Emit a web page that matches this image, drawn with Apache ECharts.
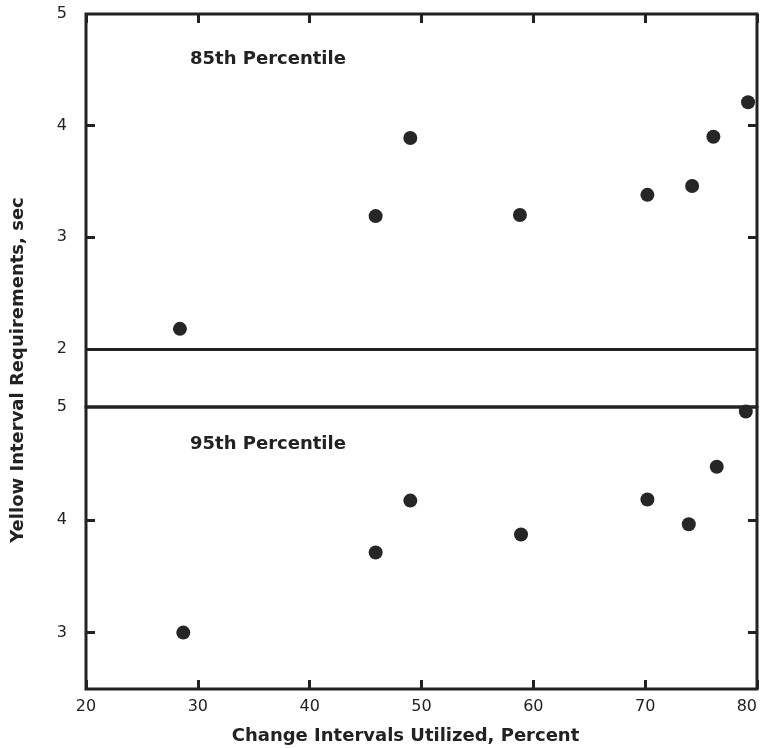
<!DOCTYPE html>
<html>
<head>
<meta charset="utf-8">
<script src="https://cdn.jsdelivr.net/npm/echarts@6/dist/echarts.min.js"></script>
<style>
  html, body { margin: 0; padding: 0; background: #fff; }
  #main { width: 761px; height: 748px; }
</style>
</head>
<body>
<div id="main"></div>
<script>
// values
var xTicks = [20, 30, 40, 50, 60, 70, 80]
var p85X = [28.4, 45.9, 49.0, 58.8, 70.2, 74.2, 76.1, 79.2]
var p85Y = [2.18, 3.19, 3.89, 3.20, 3.38, 3.46, 3.90, 4.21]
var p95X = [28.7, 45.9, 49.0, 58.9, 70.2, 73.9, 76.4, 79.0]
var p95Y = [3.00, 3.71, 4.17, 3.87, 4.18, 3.96, 4.47, 4.96]
var topLabels = [2, 3, 4, 5]
var bottomLabels = [3, 4, 5]

function pairs (xs, ys) {
  return xs.map(function (x, i) { return [x, ys[i]] })
}

var ink = '#222'
var font = 'DejaVu Sans'
var chart = echarts.init(document.getElementById('main'))

var xBase = {
  type: 'value',
  min: xTicks[0],
  max: xTicks[xTicks.length - 1],
  interval: 10,
  splitLine: { show: false },
  axisLine: { show: false },
  axisTick: { inside: true, length: 9, lineStyle: { color: ink, width: 3 } }
}

function yTick () {
  return { inside: true, length: 9, customValues: [3, 4], lineStyle: { color: ink, width: 3 } }
}

var option = {
  backgroundColor: '#fff',
  animation: false,
  grid: [
    { left: 86, right: 4, top: 14, height: 393, show: true, borderColor: ink, borderWidth: 3, outerBoundsMode: 'none' },
    { left: 86, right: 4, top: 407, height: 282, show: true, borderColor: ink, borderWidth: 3, outerBoundsMode: 'none' }
  ],
  xAxis: [
    Object.assign({}, xBase, { gridIndex: 0, position: 'top', axisLabel: { show: false } }),
    Object.assign({}, xBase, {
      gridIndex: 1,
      position: 'bottom',
      axisLabel: { color: ink, fontFamily: font, fontSize: 16, margin: 10, alignMaxLabel: 'right' },
      name: 'Change Intervals Utilized, Percent',
      nameLocation: 'middle',
      nameGap: 38,
      nameTextStyle: { color: ink, fontFamily: font, fontSize: 18, fontWeight: 'bold', padding: [0, 32, 0, 0] }
    })
  ],
  yAxis: [
    {
      gridIndex: 0, type: 'value', min: 1.48, max: 5,
      splitLine: { show: false }, axisLine: { show: false }, axisTick: yTick(),
      axisLabel: { customValues: topLabels, color: ink, fontFamily: font, fontSize: 16, margin: 19 }
    },
    {
      gridIndex: 1, type: 'value', min: 2.5, max: 5,
      splitLine: { show: false }, axisLine: { show: false }, axisTick: yTick(),
      axisLabel: { customValues: bottomLabels, color: ink, fontFamily: font, fontSize: 16, margin: 19 }
    },
    {
      gridIndex: 0, type: 'value', min: 1.48, max: 5, position: 'right',
      splitLine: { show: false }, axisLine: { show: false }, axisLabel: { show: false }, axisTick: yTick()
    },
    {
      gridIndex: 1, type: 'value', min: 2.5, max: 5, position: 'right',
      splitLine: { show: false }, axisLine: { show: false }, axisLabel: { show: false }, axisTick: yTick()
    }
  ],
  graphic: [
    {
      type: 'text', x: 18, y: 370, rotation: Math.PI / 2,
      style: {
        text: 'Yellow Interval Requirements, sec', fill: ink,
        font: 'bold 18px "DejaVu Sans"', textAlign: 'center', textVerticalAlign: 'middle'
      }
    },
    { type: 'text', left: 190, top: 50, style: { text: '85th Percentile', fill: ink, font: 'bold 18px "DejaVu Sans"' } },
    { type: 'text', left: 190, top: 435, style: { text: '95th Percentile', fill: ink, font: 'bold 18px "DejaVu Sans"' } }
  ],
  series: [
    {
      name: '85th', type: 'scatter', xAxisIndex: 0, yAxisIndex: 0,
      symbolSize: 14, itemStyle: { color: '#262626', opacity: 1 },
      data: pairs(p85X, p85Y),
      markLine: {
        silent: true, symbol: 'none', label: { show: false },
        lineStyle: { color: ink, width: 3, type: 'solid' },
        data: [{ yAxis: 2 }]
      }
    },
    {
      name: '95th', type: 'scatter', xAxisIndex: 1, yAxisIndex: 1,
      symbolSize: 14, itemStyle: { color: '#262626', opacity: 1 },
      data: pairs(p95X, p95Y)
    }
  ]
}
chart.setOption(option)
</script>
</body>
</html>
